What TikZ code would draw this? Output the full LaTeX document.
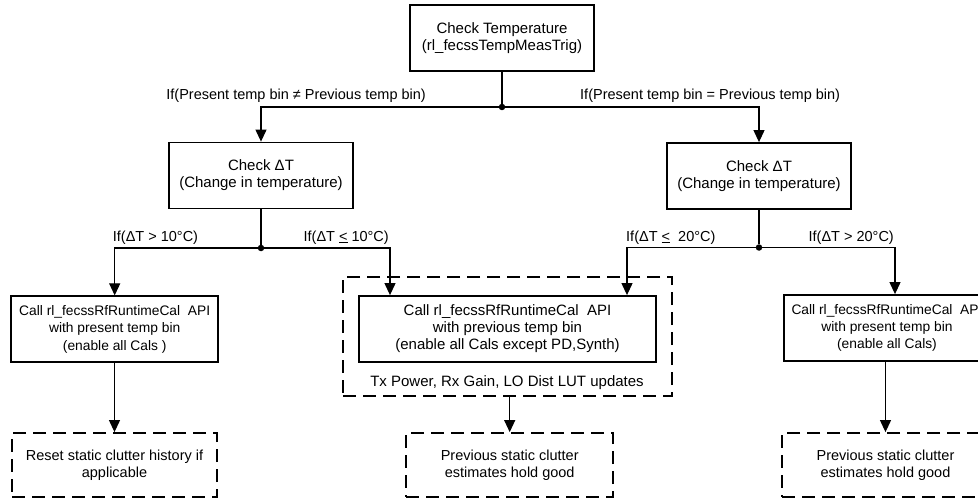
\documentclass[tikz,border=0pt]{standalone}
\usepackage{fontspec}
\setmainfont{Liberation Sans}
\usetikzlibrary{arrows.meta}
\tikzset{
  fbig/.style={font=\fontsize{15}{17}\selectfont},
  fsmall/.style={font=\fontsize{13.8}{17.2}\selectfont},
  flab/.style={font=\fontsize{14.5}{17}\selectfont},
  sbox/.style={draw, line width=1.8pt, align=center, inner sep=0pt},
  dbox/.style={draw, line width=1.8pt, dash pattern=on 13pt off 7pt, align=center, inner sep=0pt},
  conn/.style={line width=1.1pt},
  arr/.style={conn, -{Triangle[length=12pt,width=11pt]}},
  dot/.style={circle, fill, inner sep=0pt, minimum size=6.5pt},
  lab/.style={flab, inner sep=0pt}
}
\begin{document}
\begin{tikzpicture}[x=1pt,y=-1pt]
\useasboundingbox (0,0) rectangle (978,500);
% top
\node[sbox, fbig, minimum width=184pt, minimum height=66pt] (top) at (502,38) {Check Temperature\\(rl\_fecssTempMeasTrig)};
\node[dot] (j0) at (502,107) {};
\node[lab, anchor=base east] (l0) at (426,100) {If(Present temp bin ≠ Previous temp bin)};
\node[lab, anchor=base west] (r0) at (580,100) {If(Present temp bin = Previous temp bin)};
% second level
\node[sbox, fbig, minimum width=184pt, minimum height=66pt] (cdL) at (261,175.5) {Check ΔT\\(Change in temperature)};
\node[sbox, fbig, minimum width=184pt, minimum height=66pt] (cdR) at (759,176) {Check ΔT\\(Change in temperature)};
\node[dot] (jL) at (261,248) {};
\node[dot] (jR) at (759,247.5) {};
\node[lab, anchor=base west] (lL1) at (112.7,241) {If(ΔT > 10°C)};
\node[lab, anchor=base east] (lL2) at (389,241) {If(ΔT \underline{<} 10°C)};
\node[lab, anchor=base west] (lR1) at (626,241) {If(ΔT \underline{<}~ 20°C)};
\node[lab, anchor=base east] (lR2) at (894,241) {If(ΔT > 20°C)};
% third level
\node[dbox, minimum width=329pt, minimum height=119pt] (mOut) at (507.5,336.5) {};
\node[sbox, fsmall, minimum width=207pt, minimum height=66pt] (callL) at (114.7,329.3) {Call rl\_fecssRfRuntimeCal~ API\\with present temp bin\\(enable all Cals )};
\node[sbox, fbig, minimum width=297pt, minimum height=66pt] (callM) at (507.5,329) {Call rl\_fecssRfRuntimeCal~ API\\with previous temp bin\\(enable all Cals except PD,Synth)};
\node[lab, fbig] (tx) at (507,383) {Tx Power, Rx Gain, LO Dist LUT updates};
\node[sbox, fsmall, minimum width=206pt, minimum height=66pt] (callR) at (887,328) {Call rl\_fecssRfRuntimeCal~ API\\with present temp bin\\(enable all Cals)};
% bottom
\node[dbox, flab, minimum width=205pt, minimum height=64pt] (resL) at (114.5,465) {Reset static clutter history if\\applicable};
\node[dbox, flab, minimum width=207pt, minimum height=64pt] (prevM) at (509.7,465) {Previous static clutter\\estimates hold good};
\node[dbox, flab, minimum width=207pt, minimum height=64pt] (prevR) at (885.5,465) {Previous static clutter\\estimates hold good};
% helper x positions
\coordinate (xL2) at (390,0);
\coordinate (xR1) at (627,0);
\coordinate (xR2) at (895,0);
% connectors
\draw[conn] (top) -- (j0);
\draw[arr] (j0) -| (cdL.north);
\draw[arr] (j0) -| (cdR.north);
\draw[conn] (cdL) -- (jL);
\draw[conn] (cdR) -- (jR);
\draw[arr] (jL) -| (callL.north);
\draw[arr] (jL) -| (callM.north -| xL2);
\draw[arr] (jR) -| (callM.north -| xR1);
\draw[arr] (jR) -| (callR.north -| xR2);
\draw[arr] (callL.south -| resL.north) -- (resL.north);
\draw[arr] (mOut.south -| prevM.north) -- (prevM.north);
\draw[arr] (callR.south -| prevR.north) -- (prevR.north);
\end{tikzpicture}
\end{document}
